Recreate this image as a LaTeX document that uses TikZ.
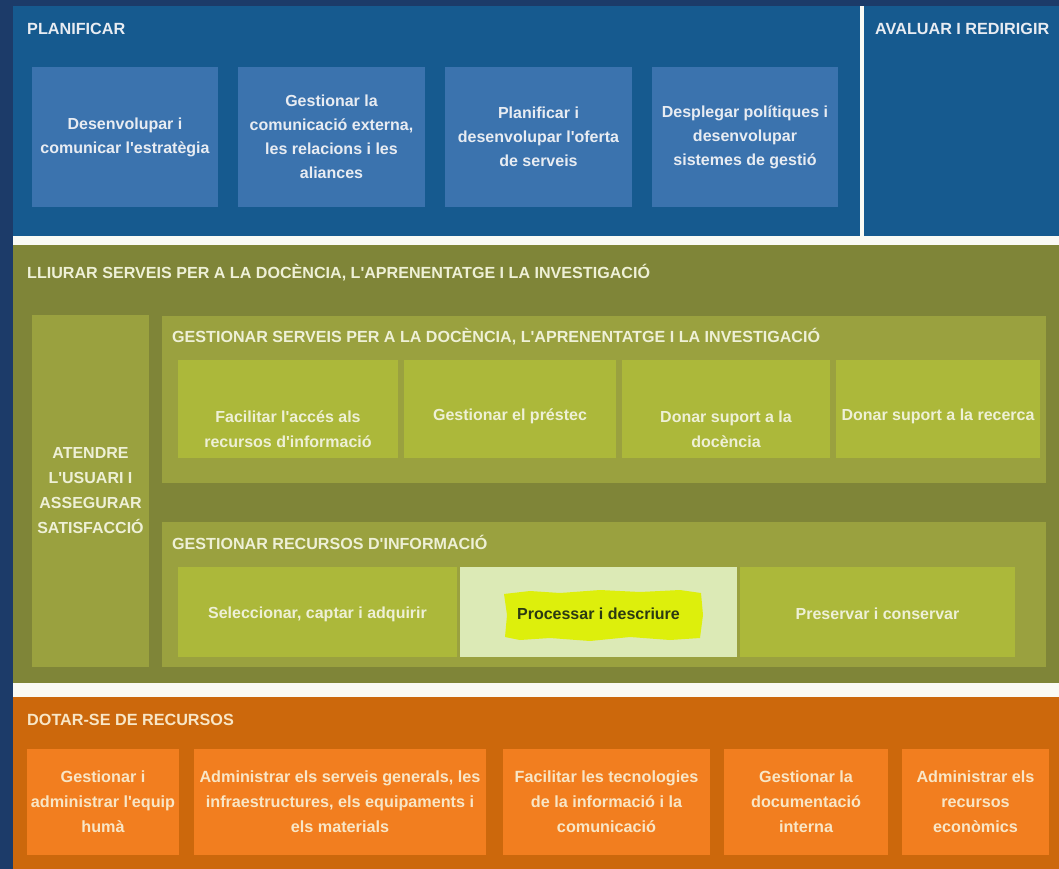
\documentclass[tikz,border=0pt]{standalone}
\usepackage{fontspec}
\newfontfamily\lsans{Liberation Sans}
\definecolor{navy}{HTML}{1C3B69}
\definecolor{bluepanel}{HTML}{165A8F}
\definecolor{bluebox}{HTML}{3B73AE}
\definecolor{stripw}{HTML}{FAFAF4}
\definecolor{olivebg}{HTML}{7F8538}
\definecolor{olivepanel}{HTML}{9AA13F}
\definecolor{olivebox}{HTML}{ACB83A}
\definecolor{paleolive}{HTML}{DCEAB6}
\definecolor{hilite}{HTML}{DDEF0C}
\definecolor{orangebg}{HTML}{CC680C}
\definecolor{orangebox}{HTML}{F27E1F}
\definecolor{bluetext}{HTML}{E8ECF2}
\definecolor{olivetext}{HTML}{EEF0D6}
\definecolor{orangetext}{HTML}{F8E6C6}
\definecolor{darktext}{HTML}{2B3A12}
\tikzset{
  panel/.style={inner sep=0pt, outer sep=0pt, draw=none},
  boxshape/.style={inner sep=0pt, outer sep=0pt, draw=none},
  bluebx/.style={boxshape, fill=bluebox, text=bluetext, align=center,
    font={\lsans\bfseries\fontsize{16}{24}\selectfont}},
  olivebx/.style={boxshape, fill=olivebox},
  orangebx/.style={boxshape, fill=orangebox, text=orangetext, align=center,
    font={\lsans\bfseries\fontsize{16.2}{25}\selectfont}},
  txt/.style={inner sep=0pt, align=center, text=olivetext,
    font={\lsans\bfseries\fontsize{16}{25}\selectfont}},
  ttl/.style={inner sep=0pt, anchor=west, font={\lsans\bfseries\fontsize{16.2}{20}\selectfont}},
  ottl/.style={inner sep=0pt, anchor=west, text=olivetext, font={\lsans\bfseries\fontsize{16.1}{20}\selectfont}},
}
\begin{document}
\begin{tikzpicture}[x=1pt,y=-1pt]
\useasboundingbox (0,0) rectangle (1059,869);
% backgrounds
\fill[navy] (0,0) rectangle (1059,869);
\fill[bluepanel] (13,6) rectangle (1059,236);
\fill[stripw] (860,6) rectangle (864,236);
\fill[stripw] (13,236) rectangle (1059,245);
\fill[olivebg] (13,245) rectangle (1059,683);
\fill[stripw] (13,683) rectangle (1059,697);
\fill[orangebg] (13,697) rectangle (1059,869);

% PLANIFICAR
\node[ttl, text=bluetext] (tplan) at (27,29) {PLANIFICAR};
\node[ttl, text=bluetext] (taval) at (875,29) {AVALUAR I REDIRIGIR};
\node[bluebx, minimum width=186pt, minimum height=140pt] (p1) at (125,137) {Desenvolupar i\\comunicar l'estratègia};
\node[bluebx, minimum width=187pt, minimum height=140pt] (p2) at (331.5,137) {Gestionar la\\comunicació externa,\\les relacions i les\\aliances};
\node[bluebx, minimum width=187pt, minimum height=140pt] (p3) at (538.5,137) {Planificar i\\desenvolupar l'oferta\\de serveis};
\node[bluebx, minimum width=186pt, minimum height=140pt] (p4) at (745,137) {Desplegar polítiques i\\desenvolupar\\sistemes de gestió};

% LLIURAR
\node[ottl] (tlliu) at (27,273) {LLIURAR SERVEIS PER A LA DOCÈNCIA, L'APRENENTATGE I LA INVESTIGACIÓ};
\node[panel, fill=olivepanel, minimum width=117pt, minimum height=352pt] (aten) at (90.5,491) {};
\node[txt, font={\lsans\bfseries\fontsize{16}{25}\selectfont}] (tatn) at (aten.center) {ATENDRE\\L'USUARI I\\ASSEGURAR\\SATISFACCIÓ};

\node[panel, fill=olivepanel, minimum width=884pt, minimum height=167pt] (gs) at (604,399.5) {};
\node[ottl] (tgs) at (172,337) {GESTIONAR SERVEIS PER A LA DOCÈNCIA, L'APRENENTATGE I LA INVESTIGACIÓ};
\node[olivebx, minimum width=220pt, minimum height=98pt] (s1) at (288,409) {};
\node[olivebx, minimum width=212pt, minimum height=98pt] (s2) at (510,409) {};
\node[olivebx, minimum width=208pt, minimum height=98pt] (s3) at (726,409) {};
\node[olivebx, minimum width=204pt, minimum height=98pt] (s4) at (938,409) {};
\node[txt] (ts1) at (288,429.5) {Facilitar l'accés als\\recursos d'informació};
\node[txt] (ts2) at (510,416) {Gestionar el préstec};
\node[txt] (ts3) at (726,429.5) {Donar suport a la\\docència};
\node[txt] (ts4) at (938,416) {Donar suport a la recerca};

\node[panel, fill=olivepanel, minimum width=884pt, minimum height=145pt] (gr) at (604,594.5) {};
\node[ottl] (tgr) at (172,542) {GESTIONAR RECURSOS D'INFORMACIÓ};
\node[olivebx, minimum width=279pt, minimum height=90pt] (r1) at (317.5,612) {};
\node[boxshape, fill=paleolive, minimum width=277pt, minimum height=90pt] (r2) at (598.5,612) {};
\node[olivebx, minimum width=275pt, minimum height=90pt] (r3) at (877.5,612) {};
\node[txt] (tr1) at (317.5,614) {Seleccionar, captar i adquirir};
\fill[hilite] (504,594) -- (530,591) -- (560,593) -- (600,590) -- (640,592) -- (680,590) -- (701,593)
  -- (703,615) -- (700,638) -- (670,640) -- (630,637) -- (590,641) -- (550,638) -- (520,640)
  -- (505,637) -- (507,615) -- cycle;
\node[txt, text=darktext] (tr2) at (598.5,614) {Processar i descriure};
\node[txt] (tr3) at (877.5,614) {Preservar i conservar};

% DOTAR-SE
\node[ttl, text=orangetext] (tdot) at (27,720) {DOTAR-SE DE RECURSOS};
\node[orangebx, minimum width=152pt, minimum height=106pt] (o1) at (103,802) {Gestionar i\\administrar l'equip\\humà};
\node[orangebx, minimum width=292pt, minimum height=106pt] (o2) at (340,802) {Administrar els serveis generals, les\\infraestructures, els equipaments i\\els materials};
\node[orangebx, minimum width=207pt, minimum height=106pt] (o3) at (606.5,802) {Facilitar les tecnologies\\de la informació i la\\comunicació};
\node[orangebx, minimum width=164pt, minimum height=106pt] (o4) at (806,802) {Gestionar la\\documentació\\interna};
\node[orangebx, minimum width=147pt, minimum height=106pt] (o5) at (975.5,802) {Administrar els\\recursos\\econòmics};
\end{tikzpicture}
\end{document}
